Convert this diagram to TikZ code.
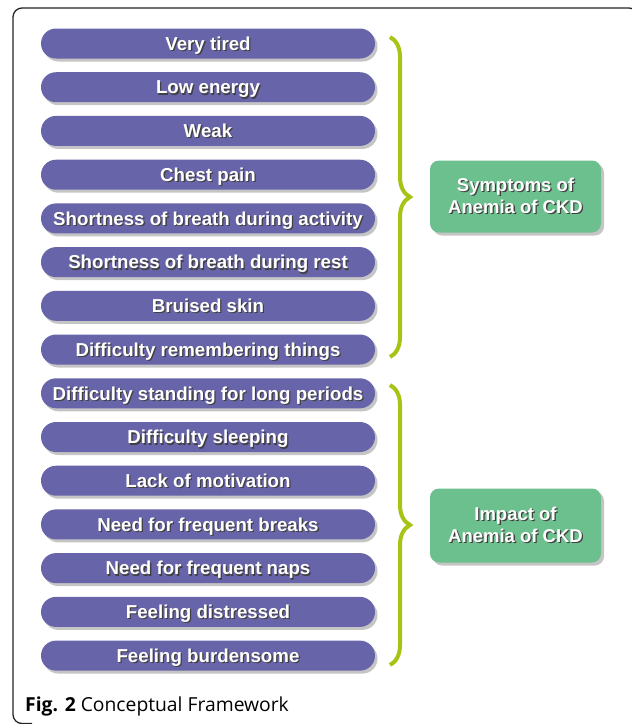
\documentclass[tikz,border=0pt]{standalone}
\usepackage{fontspec}
\newfontfamily\pillfont{Liberation Sans}
\newfontfamily\capfont{Open Sans}
\usetikzlibrary{shadows,decorations.pathreplacing}
\definecolor{pillblue}{RGB}{104,100,170}
\definecolor{boxgreen}{RGB}{108,192,142}
\definecolor{bracegreen}{RGB}{166,196,20}
% white text with a dark shadow under it
\newcommand\txtshadow[1]{\makebox[0pt][l]{\hspace{1.3pt}\raisebox{-1.3pt}{\color{black!75}#1}}#1}
\begin{document}
\begin{tikzpicture}[x=1pt,y=-1pt]
            \tikzstyle{pill} = [fill=pillblue, rounded corners=15pt, minimum width=334pt, minimum height=30pt, text height=13.4pt, text depth=0pt, text=white, font=\pillfont\bfseries\fontsize{18.7}{22}\selectfont, drop shadow={shadow xshift=2.5pt, shadow yshift=-3pt, opacity=0.45}]
            \tikzstyle{group} = [fill=boxgreen, rounded corners=9pt, minimum width=171pt, text=white, align=center, font=\pillfont\bfseries\fontsize{18.5}{22}\selectfont, drop shadow={shadow xshift=3pt, shadow yshift=-3pt, opacity=0.45}]
            \tikzstyle{curly} = [color=bracegreen, line width=4pt, decorate, decoration={brace, amplitude=20pt}]
            \useasboundingbox (0, 0) rectangle (632, 724);
            \fill[white] (0, 0) rectangle (632, 724);
            % frame
            \draw[line width=1.3pt, color=black!85, rounded corners=9pt] (32, 723.5) -- (13, 723.5) -- (13, 8) -- (638, 8) -- (638, 40);
            % symptoms
            \node[pill] (tired) at (208, 43.5) {\txtshadow{Very tired}};
            \node[pill] (energy) at (208, 87.2) {\txtshadow{Low energy}};
            \node[pill] (weak) at (208, 130.9) {\txtshadow{Weak}};
            \node[pill] (chest) at (208, 174.7) {\txtshadow{Chest pain}};
            \node[pill] (breathact) at (208, 218.4) {\txtshadow{Shortness of breath during activity}};
            \node[pill] (breathrest) at (208, 262.1) {\txtshadow{Shortness of breath during rest}};
            \node[pill] (bruised) at (208, 305.8) {\txtshadow{Bruised skin}};
            \node[pill] (memory) at (208, 349.5) {\txtshadow{Difficulty remembering things}};
            % impact
            \node[pill] (standing) at (208, 393.3) {\txtshadow{Difficulty standing for long periods}};
            \node[pill] (sleeping) at (208, 437) {\txtshadow{Difficulty sleeping}};
            \node[pill] (motivation) at (208, 480.7) {\txtshadow{Lack of motivation}};
            \node[pill] (breaks) at (208, 524.4) {\txtshadow{Need for frequent breaks}};
            \node[pill] (naps) at (208, 568.1) {\txtshadow{Need for frequent naps}};
            \node[pill] (distressed) at (208, 611.9) {\txtshadow{Feeling distressed}};
            \node[pill] (burden) at (208, 655.6) {\txtshadow{Feeling burdensome}};
            \node[group, minimum height=72pt] (symptoms) at (515.5, 196.5) {\txtshadow{Symptoms of}\\\txtshadow{Anemia of CKD}};
            \node[group, minimum height=74pt] (impact) at (515.5, 525.5) {\txtshadow{Impact of}\\\txtshadow{Anemia of CKD}};
            \draw[curly] (390, 37) -- (390, 357);
            \draw[curly] (390, 385) -- (390, 665);
            \node[anchor=base west, inner sep=0pt, font=\capfont\fontsize{19.3}{21}\selectfont] (caption) at (25, 711) {\textbf{Fig. 2} Conceptual Framework};
        \end{tikzpicture}
\end{document}
